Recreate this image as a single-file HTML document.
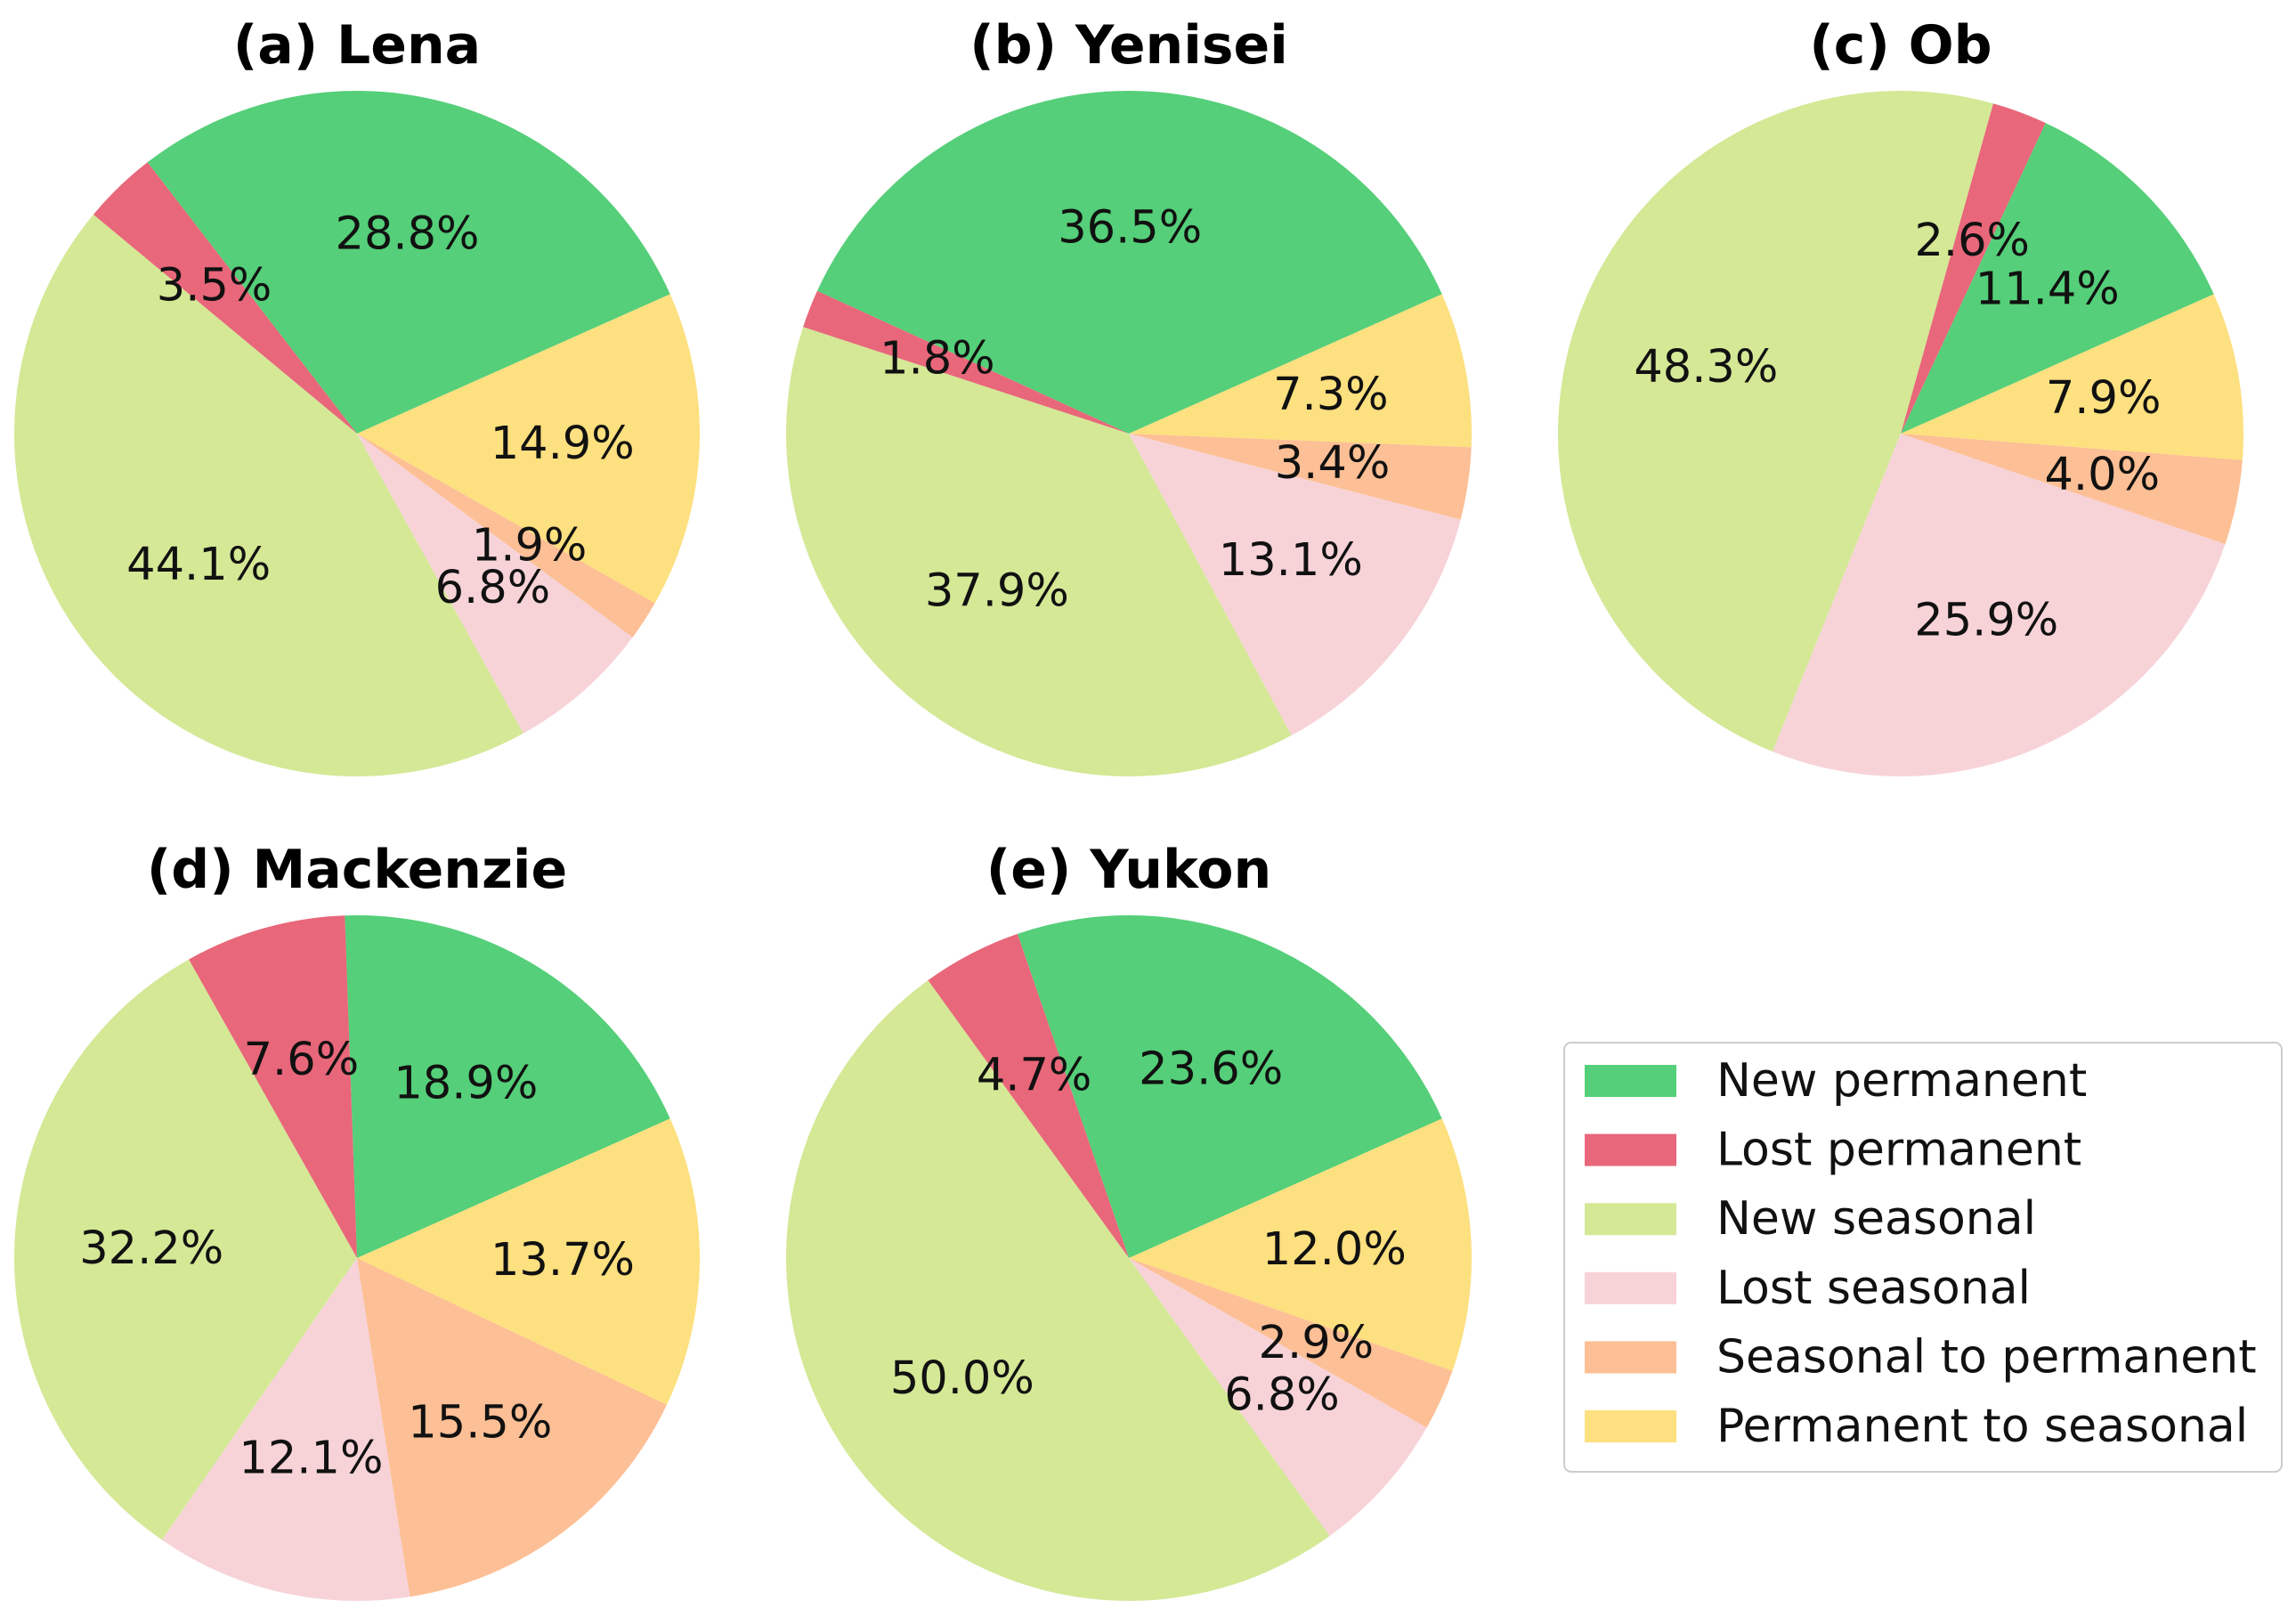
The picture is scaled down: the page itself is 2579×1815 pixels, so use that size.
<!DOCTYPE html>
<html><head><meta charset="utf-8"><style>
html,body{margin:0;padding:0;background:#fff;}
svg{display:block;font-family:"DejaVu Sans","Liberation Sans",sans-serif;}
</style></head><body>
<svg id="chart" width="2579" height="1815" viewBox="0 0 2579 1815"></svg>
<script>
const categories = ["New permanent","Lost permanent","New seasonal","Lost seasonal","Seasonal to permanent","Permanent to seasonal"];
const colors = ["#55cf79","#e8677a","#d4e896","#f7d3d8","#fdbf95","#fde07f"];
const titles = ["(a) Lena","(b) Yenisei","(c) Ob","(d) Mackenzie","(e) Yukon"];
const lena = [28.8,3.5,44.1,6.8,1.9,14.9];
const yenisei = [36.5,1.8,37.9,13.1,3.4,7.3];
const ob = [11.4,2.6,48.3,25.9,4.0,7.9];
const mackenzie = [18.9,7.6,32.2,12.1,15.5,13.7];
const yukon = [23.6,4.7,50.0,6.8,2.9,12.0];
const seriesList = [lena,yenisei,ob,mackenzie,yukon];

const NS="http://www.w3.org/2000/svg";
const svg=document.getElementById('chart');
const centers=[[401,487],[1268,487],[2135,487],[401,1413],[1268,1413]];
const R=385, START=24;
function mk(tag,attrs,parent){const e=document.createElementNS(NS,tag);for(const k in attrs)e.setAttribute(k,attrs[k]);(parent||svg).appendChild(e);return e;}
function pt(cx,cy,r,deg){const a=deg*Math.PI/180;return [cx+r*Math.cos(a),cy-r*Math.sin(a)];}

seriesList.forEach((vals,pi)=>{
  const [cx,cy]=centers[pi];
  const g=mk('g',{});
  
  
  const t=mk('text',{x:cx,y:cy-R-31,'text-anchor':'middle','font-size':60,'font-weight':'bold',fill:'#000'},g);
  t.textContent=titles[pi];
  
  
  const total=vals.reduce((a,b)=>a+b,0);
  let ang=START;
  const labels=[];
  vals.forEach((v,i)=>{
    const sweep=v/total*360;
    const a0=ang,a1=ang+sweep;
    const p0=pt(cx,cy,R,a0),p1=pt(cx,cy,R,a1);
    const large=sweep>180?1:0;
    const p=mk('path',{d:`M${cx},${cy} L${p0[0]},${p0[1]} A${R},${R} 0 ${large} 0 ${p1[0]},${p1[1]} Z`,fill:colors[i]},g);
    
    
    const lp=pt(cx,cy,R*0.6,(a0+a1)/2);
    labels.push([lp,v]);
    ang=a1;
  });
  labels.forEach(([lp,v])=>{
    const tx=mk('text',{x:lp[0],y:lp[1],'text-anchor':'middle','dominant-baseline':'central','font-size':51,fill:'#111'},g);
    tx.textContent=v.toFixed(1)+'%';
    
    
  });
});

const lg=mk('g',{});


mk('rect',{x:1757,y:1171,width:806,height:482,rx:8,fill:'#fff',stroke:'#cccccc','stroke-width':2},lg);
categories.forEach((c,i)=>{
  const y=1214+i*77.6;
  const r=mk('rect',{x:1780,y:y-18,width:103,height:36,fill:colors[i]},lg);
  
  
  const t=mk('text',{x:1928,y:y,'dominant-baseline':'central','font-size':52,fill:'#111'},lg);
  t.textContent=c;
  
  
});
</script>
</body></html>
